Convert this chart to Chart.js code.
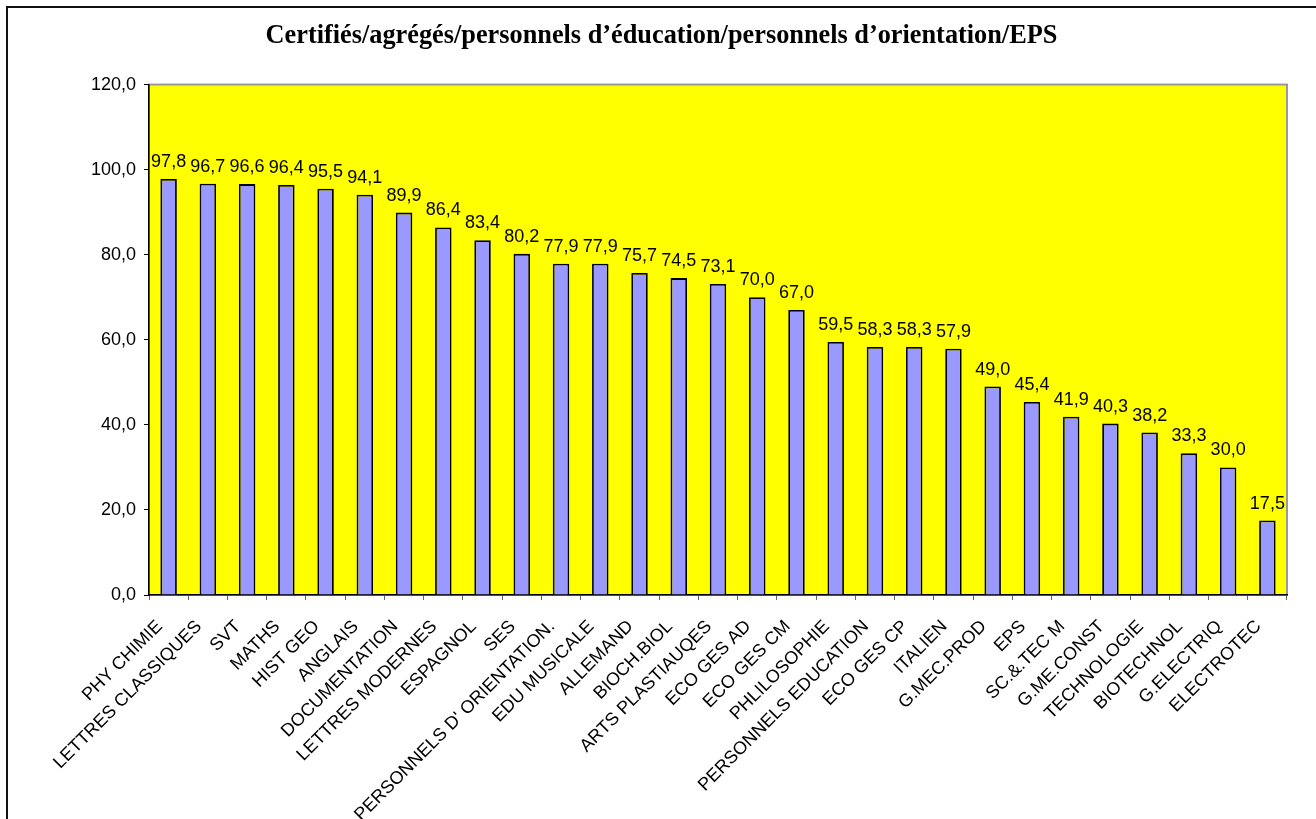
<!DOCTYPE html>
<html lang="fr">
<head>
  <meta charset="UTF-8" />
  <title>Certifiés/agrégés/personnels d’éducation/personnels d’orientation/EPS</title>
  <script src="https://cdn.jsdelivr.net/npm/chart.js"></script>
  <style>
    html, body {
      margin: 0;
      padding: 0;
      background: #fff;
      overflow: hidden;
    }
    .frame {
      position: absolute;
      left: 6px;
      top: 6px;
      width: 1400px;
      height: 900px;
      border: 2px solid #111;
    }
    #chart {
      position: absolute;
      left: 0;
      top: 0;
    }
  </style>
</head>
<body>
  <div class="frame"></div>
  <canvas id="chart" width="1316" height="819"></canvas>
  <script>
    const categories = [
      'PHY CHIMIE', 'LETTRES CLASSIQUES', 'SVT', 'MATHS', 'HIST GEO', 'ANGLAIS',
      'DOCUMENTATION', 'LETTRES MODERNES', 'ESPAGNOL', 'SES',
      "PERSONNELS D' ORIENTATION.", 'EDU MUSICALE', 'ALLEMAND', 'BIOCH.BIOL',
      'ARTS PLASTIAUQES', 'ECO GES AD', 'ECO GES CM', 'PHLILOSOPHIE',
      'PERSONNELS EDUCATION', 'ECO GES CP', 'ITALIEN', 'G.MEC.PROD', 'EPS',
      'SC.&.TEC M', 'G.ME.CONST', 'TECHNOLOGIE', 'BIOTECHNOL', 'G.ELECTRIQ', 'ELECTROTEC'
    ];
    const values = [
      97.8, 96.7, 96.6, 96.4, 95.5, 94.1,
      89.9, 86.4, 83.4, 80.2,
      77.9, 77.9, 75.7, 74.5,
      73.1, 70.0, 67.0, 59.5,
      58.3, 58.3, 57.9, 49.0, 45.4,
      41.9, 40.3, 38.2, 33.3, 30.0, 17.5
    ];
    const yTicks = [0, 20, 40, 60, 80, 100, 120];

    const fmt = v => v.toFixed(1).replace('.', ',');
    const sans = "'Liberation Sans', Arial, sans-serif";

    // yellow plot area with grey top/right edge
    const plotArea = {
      id: 'plotArea',
      beforeDraw(chart) {
        const { ctx, chartArea: a } = chart;
        ctx.save();
        ctx.fillStyle = '#FFFF00';
        ctx.fillRect(a.left, a.top, a.right - a.left, a.bottom - a.top);
        ctx.strokeStyle = '#999';
        ctx.lineWidth = 2;
        ctx.strokeRect(a.left, a.top, a.right - a.left, a.bottom - a.top);
        ctx.restore();
      }
    };

    // value labels above the bars
    const barValues = {
      id: 'barValues',
      afterDatasetsDraw(chart) {
        const { ctx } = chart;
        const meta = chart.getDatasetMeta(0);
        ctx.save();
        ctx.font = '18px ' + sans;
        ctx.fillStyle = '#000';
        ctx.textAlign = 'center';
        ctx.textBaseline = 'alphabetic';
        meta.data.forEach((bar, i) => {
          ctx.fillText(fmt(values[i]), bar.x, bar.y - 12);
        });
        ctx.restore();
      }
    };

    new Chart(document.getElementById('chart'), {
      type: 'bar',
      data: {
        labels: categories,
        datasets: [{
          data: values,
          backgroundColor: '#9999FF',
          borderColor: '#000',
          borderWidth: 1.8,
          categoryPercentage: 1,
          barPercentage: 0.42
        }]
      },
      options: {
        responsive: false,
        animation: false,
        layout: { padding: { left: 36, right: 29, top: 0, bottom: 0 } },
        plugins: {
          legend: { display: false },
          tooltip: { enabled: false },
          title: {
            display: true,
            text: 'Certifiés/agrégés/personnels d’éducation/personnels d’orientation/EPS',
            color: '#000',
            font: { family: "'Liberation Serif', 'Times New Roman', serif", size: 26.3, weight: 'bold' },
            padding: { top: 20, bottom: 33 }
          }
        },
        scales: {
          x: {
            afterFit: s => { s.height = 224; },
            grid: {
              offset: true,
              drawOnChartArea: false,
              drawTicks: true,
              tickLength: 5,
              color: '#666'
            },
            border: { color: '#000', width: 1.5 },
            ticks: {
              autoSkip: false,
              minRotation: 45,
              maxRotation: 45,
              padding: 16,
              labelOffset: -9,
              color: '#000',
              font: { family: sans, size: 18 }
            }
          },
          y: {
            min: 0,
            max: 120,
            afterFit: s => { s.width = 113; },
            afterBuildTicks: s => { s.ticks = yTicks.map(v => ({ value: v })); },
            grid: {
              drawOnChartArea: false,
              drawTicks: true,
              tickLength: 5,
              color: '#000'
            },
            border: { color: '#000', width: 1.5 },
            ticks: {
              padding: 8,
              color: '#000',
              font: { family: sans, size: 18 },
              callback: v => fmt(v)
            }
          }
        }
      },
      plugins: [plotArea, barValues]
    });
  </script>
</body>
</html>
